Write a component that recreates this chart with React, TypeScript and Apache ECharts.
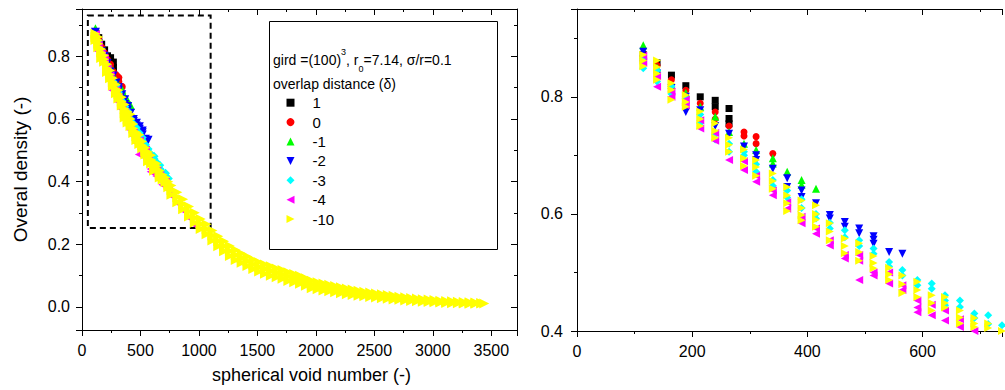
import React, { useEffect, useRef } from 'react';
import * as echarts from 'echarts';

// ---------- data ----------
const seriesNames = ['1', '0', '-1', '-2', '-3', '-4', '-10'];

// spherical void number of each sampled column (x)
const voidNumber = [115, 139, 164, 189, 214, 240, 264, 290, 311, 340, 365, 390, 415, 439, 465, 490, 515, 542, 565, 591, 616, 639, 665, 690, 714, 738];

// overall density values per column, one list per overlap distance
const delta1 = [[0.872, 0.865], [0.858], [0.837], [0.819], [0.8], [0.794, 0.783], [0.78, 0.763, 0.754]];
const delta0 = [[0.87, 0.862], [0.854], [0.829], [0.811], [0.789], [0.774, 0.762], [0.75], [0.74, 0.733], [0.732, 0.72], [0.703]];
const deltaM1 = [[0.888, 0.872], [0.85], [0.82], [0.807], [0.783], [0.766], [0.74], [0.72], [0.709], [0.695, 0.686], [0.672], [0.658, 0.65], [0.643]];
const deltaM2 = [[0.877, 0.86], [0.84, 0.835], [0.815], [0.8, 0.774], [0.777], [0.75], [0.737], [0.715], [0.7, 0.692], [0.677], [0.661, 0.646], [0.64, 0.629], [0.618], [0.598, 0.592], [0.586, 0.578], [0.575, 0.567], [0.562, 0.556, 0.549], [0.535], [0.532]];
const deltaM3 = [[0.866, 0.849], [0.845, 0.826], [0.818, 0.805], [0.798, 0.788], [0.77, 0.755], [0.735, 0.727], [0.72, 0.706], [0.706, 0.7], [0.685, 0.672], [0.658, 0.648], [0.64, 0.628], [0.625, 0.61], [0.6, 0.592], [0.585, 0.575], [0.572, 0.56], [0.555, 0.545], [0.541, 0.532], [0.518, 0.51], [0.504, 0.495], [0.487, 0.478], [0.481, 0.472], [0.461, 0.452, 0.444], [0.452, 0.441], [0.43, 0.422], [0.427, 0.412], [0.41]];
const deltaM4 = [[0.87, 0.858], [0.835, 0.817], [0.809, 0.8], [0.795, 0.785], [0.76, 0.746], [0.738, 0.725], [0.692], [0.69, 0.675], [0.665, 0.655], [0.64, 0.632], [0.62, 0.609], [0.595, 0.584], [0.575, 0.566], [0.555, 0.546], [0.53, 0.524], [0.53, 0.52, 0.487], [0.5, 0.495], [0.5, 0.481], [0.478, 0.47], [0.452, 0.44, 0.432], [0.445, 0.427], [0.435, 0.418], [0.42, 0.407], [0.4, 0.39], [0.398, 0.385], [0.375]];
const deltaM10 = [[0.872, 0.862, 0.852], [0.862, 0.851, 0.84, 0.829], [0.823, 0.812, 0.795], [0.803, 0.791, 0.783], [0.775, 0.762, 0.75], [0.755, 0.742, 0.73], [0.73, 0.718, 0.706], [0.71, 0.695, 0.682], [0.692, 0.68, 0.665], [0.669, 0.656, 0.643], [0.646, 0.632, 0.618, 0.605], [0.623, 0.61, 0.598, 0.589], [0.615, 0.6, 0.59, 0.578], [0.584, 0.57, 0.555], [0.558, 0.545, 0.533], [0.55, 0.535, 0.52], [0.528, 0.516, 0.507], [0.508, 0.497, 0.487], [0.495, 0.48, 0.465], [0.484, 0.47, 0.458], [0.461, 0.448, 0.435], [0.458, 0.448, 0.44], [0.435, 0.423, 0.413], [0.422, 0.413, 0.407], [0.413, 0.405, 0.398], [0.4, 0.39, 0.382]];

// long tail (only visible in the overview plot)
const magentaTailX = [765, 815, 865, 915, 965];
const magentaTail = [[0.355], [0.332], [0.308], [0.285], [0.262]];
const yellowTailX = [765, 815, 865, 915, 965, 1015, 1065, 1115, 1165, 1215, 1265, 1315, 1365, 1415, 1465, 1515, 1565, 1615, 1665, 1715, 1765, 1815, 1865, 1915, 1965, 2015, 2065, 2115, 2165, 2215, 2265, 2315, 2365, 2415, 2465, 2515, 2565, 2615, 2665, 2715, 2765, 2815, 2865, 2915, 2965, 3015, 3065, 3115, 3165, 3215, 3265, 3315, 3365, 3415, 3440];
const yellowTail = [
  [0.388, 0.373, 0.358], [0.366, 0.35, 0.334], [0.344, 0.328, 0.312], [0.321, 0.305, 0.289], [0.301, 0.285, 0.269],
  [0.281, 0.265, 0.249], [0.264, 0.248, 0.232], [0.244, 0.228, 0.212], [0.226, 0.21, 0.194], [0.21, 0.194, 0.178],
  [0.195, 0.179, 0.163], [0.182, 0.166, 0.15], [0.171, 0.156, 0.141], [0.161, 0.146, 0.131], [0.151, 0.136, 0.121],
  [0.143, 0.128, 0.113], [0.136, 0.121, 0.106], [0.13, 0.115, 0.1], [0.123, 0.109, 0.095], [0.118, 0.104, 0.09],
  [0.111, 0.097, 0.083], [0.105, 0.092, 0.079], [0.1, 0.087, 0.074], [0.092, 0.08, 0.068], [0.084, 0.072, 0.06],
  [0.079, 0.068, 0.057], [0.075, 0.064, 0.053], [0.071, 0.06, 0.05], [0.067, 0.057, 0.047], [0.063, 0.053, 0.044],
  [0.059, 0.05, 0.041], [0.056, 0.047, 0.038], [0.052, 0.044, 0.036], [0.049, 0.041, 0.034], [0.046, 0.039, 0.032],
  [0.043, 0.036, 0.03], [0.041, 0.034, 0.028], [0.038, 0.032, 0.026], [0.036, 0.03, 0.024], [0.033, 0.028, 0.023],
  [0.031, 0.026, 0.021], [0.029, 0.024, 0.019], [0.027, 0.022, 0.018], [0.025, 0.021, 0.017], [0.024, 0.02, 0.016],
  [0.022, 0.018, 0.015], [0.02, 0.017, 0.014], [0.019, 0.016, 0.013], [0.018, 0.015, 0.012], [0.017, 0.014, 0.012],
  [0.016, 0.013, 0.011], [0.015, 0.012, 0.01], [0.014, 0.012, 0.01], [0.013, 0.011], [0.011],
];

// zoom window drawn on the overview plot: [x0, y0, x1, y1]
const zoomWindow = [50, 0.93, 1100, 0.252];

// ---------- styles ----------
const seriesColors = ['#000000', '#ff0000', '#00ff00', '#0000ff', '#00ffff', '#ff00ff', '#ffff00'];
const seriesSymbols = ['rect', 'circle', 'triangle', 'path://M0,0L2,0L1,2Z', 'diamond', 'path://M2,0L2,2L0,1Z', 'path://M0,0L2,1L0,2Z'];
const overviewSizes = [8, 8, 9, 9, 9, 9, 10];
const zoomSizes = [7, 7, 8, 8, 8, 8, 8];
const FONT = '"Liberation Sans", Arial, Helvetica, sans-serif';

function toPoints(xs: number[], cols: number[][]): number[][] {
  const pts: number[][] = [];
  cols.forEach((ys, i) => ys.forEach((y) => pts.push([xs[i], y])));
  return pts;
}

const allData: number[][][] = [
  toPoints(voidNumber, delta1),
  toPoints(voidNumber, delta0),
  toPoints(voidNumber, deltaM1),
  toPoints(voidNumber, deltaM2),
  toPoints(voidNumber, deltaM3),
  toPoints(voidNumber, deltaM4).concat(toPoints(magentaTailX, magentaTail)),
  toPoints(voidNumber, deltaM10).concat(toPoints(yellowTailX, yellowTail)),
];

const isMultiple = (v: number, step: number) => Math.abs(v / step - Math.round(v / step)) < 1e-6;

function valueAxis(opts: any) {
  const { gridIndex, position, min, max, interval, splitNumber, inside, labels, formatter, name, nameGap, labelMargin, nameStyle } = opts;
  return {
    type: 'value',
    gridIndex,
    position,
    min,
    max,
    interval,
    splitNumber,
    scale: true,
    axisLine: { show: true, onZero: false, lineStyle: { color: '#000', width: 1 } },
    axisTick: { show: true, inside, length: 6, lineStyle: { color: '#000', width: 1 } },
    minorTick: { show: true, splitNumber: 2, length: 3, lineStyle: { color: '#000', width: 1 } },
    splitLine: { show: false },
    minorSplitLine: { show: false },
    axisLabel: labels
      ? { show: true, color: '#000', fontSize: 16, fontFamily: FONT, margin: labelMargin, formatter }
      : { show: false },
    name: name || '',
    nameLocation: 'middle',
    nameGap: nameGap || 0,
    nameTextStyle: Object.assign({ color: '#000', fontSize: 18, fontFamily: FONT }, nameStyle || {}),
  };
}

export default function App() {
  const ref = useRef<HTMLDivElement>(null);

  useEffect(() => {
    document.body.style.margin = '0';
    if (!ref.current) return;
    const chart = echarts.init(ref.current, undefined, { renderer: 'svg' });

    const xFmt = (step: number) => (v: number) => (isMultiple(v, step) ? String(Math.round(v)) : '');
    const yFmt = (v: number) => (isMultiple(v, 0.2) ? v.toFixed(1) : '');

    const series: any[] = [];
    [0, 1].forEach((g) => {
      seriesNames.forEach((nm, i) => {
        series.push({
          type: 'scatter',
          name: nm,
          xAxisIndex: g === 0 ? 0 : 2,
          yAxisIndex: g === 0 ? 0 : 2,
          data: allData[i],
          symbol: seriesSymbols[i],
          symbolSize: g === 0 ? overviewSizes[i] : zoomSizes[i],
          itemStyle: { color: seriesColors[i], opacity: 1 },
          clip: true,
          silent: true,
          z: 2,
        });
      });
    });
    // dashed zoom window on the overview
    series.push({
      type: 'scatter',
      xAxisIndex: 0,
      yAxisIndex: 0,
      data: [],
      z: 5,
      silent: true,
      markArea: {
        silent: true,
        itemStyle: { color: 'rgba(0,0,0,0)', borderColor: '#000', borderWidth: 2, borderType: [6, 4] },
        data: [[{ coord: [zoomWindow[0], zoomWindow[1]] }, { coord: [zoomWindow[2], zoomWindow[3]] }]],
      },
    });

    chart.setOption({
      animation: false,
      backgroundColor: '#fff',
      grid: [
        { left: 82, top: 9, width: 435, height: 321, containLabel: false },
        { left: 577, top: 9, width: 428, height: 322, containLabel: false },
      ],
      xAxis: [
        valueAxis({ gridIndex: 0, position: 'bottom', min: 0, max: 3720, interval: 500, inside: false, labels: true, labelMargin: 12, formatter: xFmt(500), name: 'spherical void number (-)', nameGap: 36, nameStyle: { padding: [0, 0, 0, 24] } }),
        valueAxis({ gridIndex: 0, position: 'top', min: 0, max: 3720, interval: 500, inside: true, labels: false }),
        valueAxis({ gridIndex: 1, position: 'bottom', min: 0, max: 738, interval: 200, inside: false, labels: true, labelMargin: 12, formatter: xFmt(200) }),
        valueAxis({ gridIndex: 1, position: 'top', min: 0, max: 738, interval: 200, inside: true, labels: false }),
      ],
      yAxis: [
        valueAxis({ gridIndex: 0, position: 'left', min: -0.0734, max: 0.951, splitNumber: 5, inside: false, labels: true, labelMargin: 12, formatter: yFmt, name: 'Overal density (-)', nameGap: 52, nameStyle: { fontSize: 19 } }),
        valueAxis({ gridIndex: 0, position: 'right', min: -0.0734, max: 0.951, splitNumber: 5, inside: true, labels: false }),
        valueAxis({ gridIndex: 1, position: 'left', min: 0.4, max: 0.95, interval: 0.2, inside: false, labels: true, labelMargin: 14, formatter: yFmt }),
      ],
      legend: {
        show: true,
        orient: 'vertical',
        left: 286.5,
        top: 94.7,
        padding: 0,
        itemWidth: 8,
        itemHeight: 8,
        itemGap: 3.4,
        selectedMode: false,
        data: seriesNames,
        textStyle: { color: '#000', fontSize: 15, fontFamily: FONT, lineHeight: 16, padding: [0, 0, 0, 13] },
      },
      graphic: [
        {
          type: 'rect',
          left: 267,
          top: 19,
          shape: { width: 228, height: 228 },
          style: { fill: 'none', stroke: '#000', lineWidth: 1 },
          silent: true,
        },
        {
          type: 'text',
          x: 273,
          y: 60,
          style: {
            text: '{a|gird =(100)}{sup|3}{a|, r}{sub|0}{a|=7.14, σ/r=0.1}',
            verticalAlign: 'middle',
            align: 'left',
            rich: {
              a: { fontSize: 14, fontFamily: FONT, fill: '#000', lineHeight: 26 },
              sup: { fontSize: 9, fontFamily: FONT, fill: '#000', lineHeight: 8, verticalAlign: 'top' },
              sub: { fontSize: 9, fontFamily: FONT, fill: '#000', lineHeight: 16, verticalAlign: 'bottom' },
            },
          },
          silent: true,
        },
        {
          type: 'text',
          x: 273,
          y: 84,
          style: { text: 'overlap distance (δ)', fontSize: 14, fontFamily: FONT, fill: '#000', verticalAlign: 'middle', align: 'left' },
          silent: true,
        },
      ],
      series,
    });

    return () => chart.dispose();
  }, []);

  return <div ref={ref} style={{ width: 1005, height: 390 }} />;
}
